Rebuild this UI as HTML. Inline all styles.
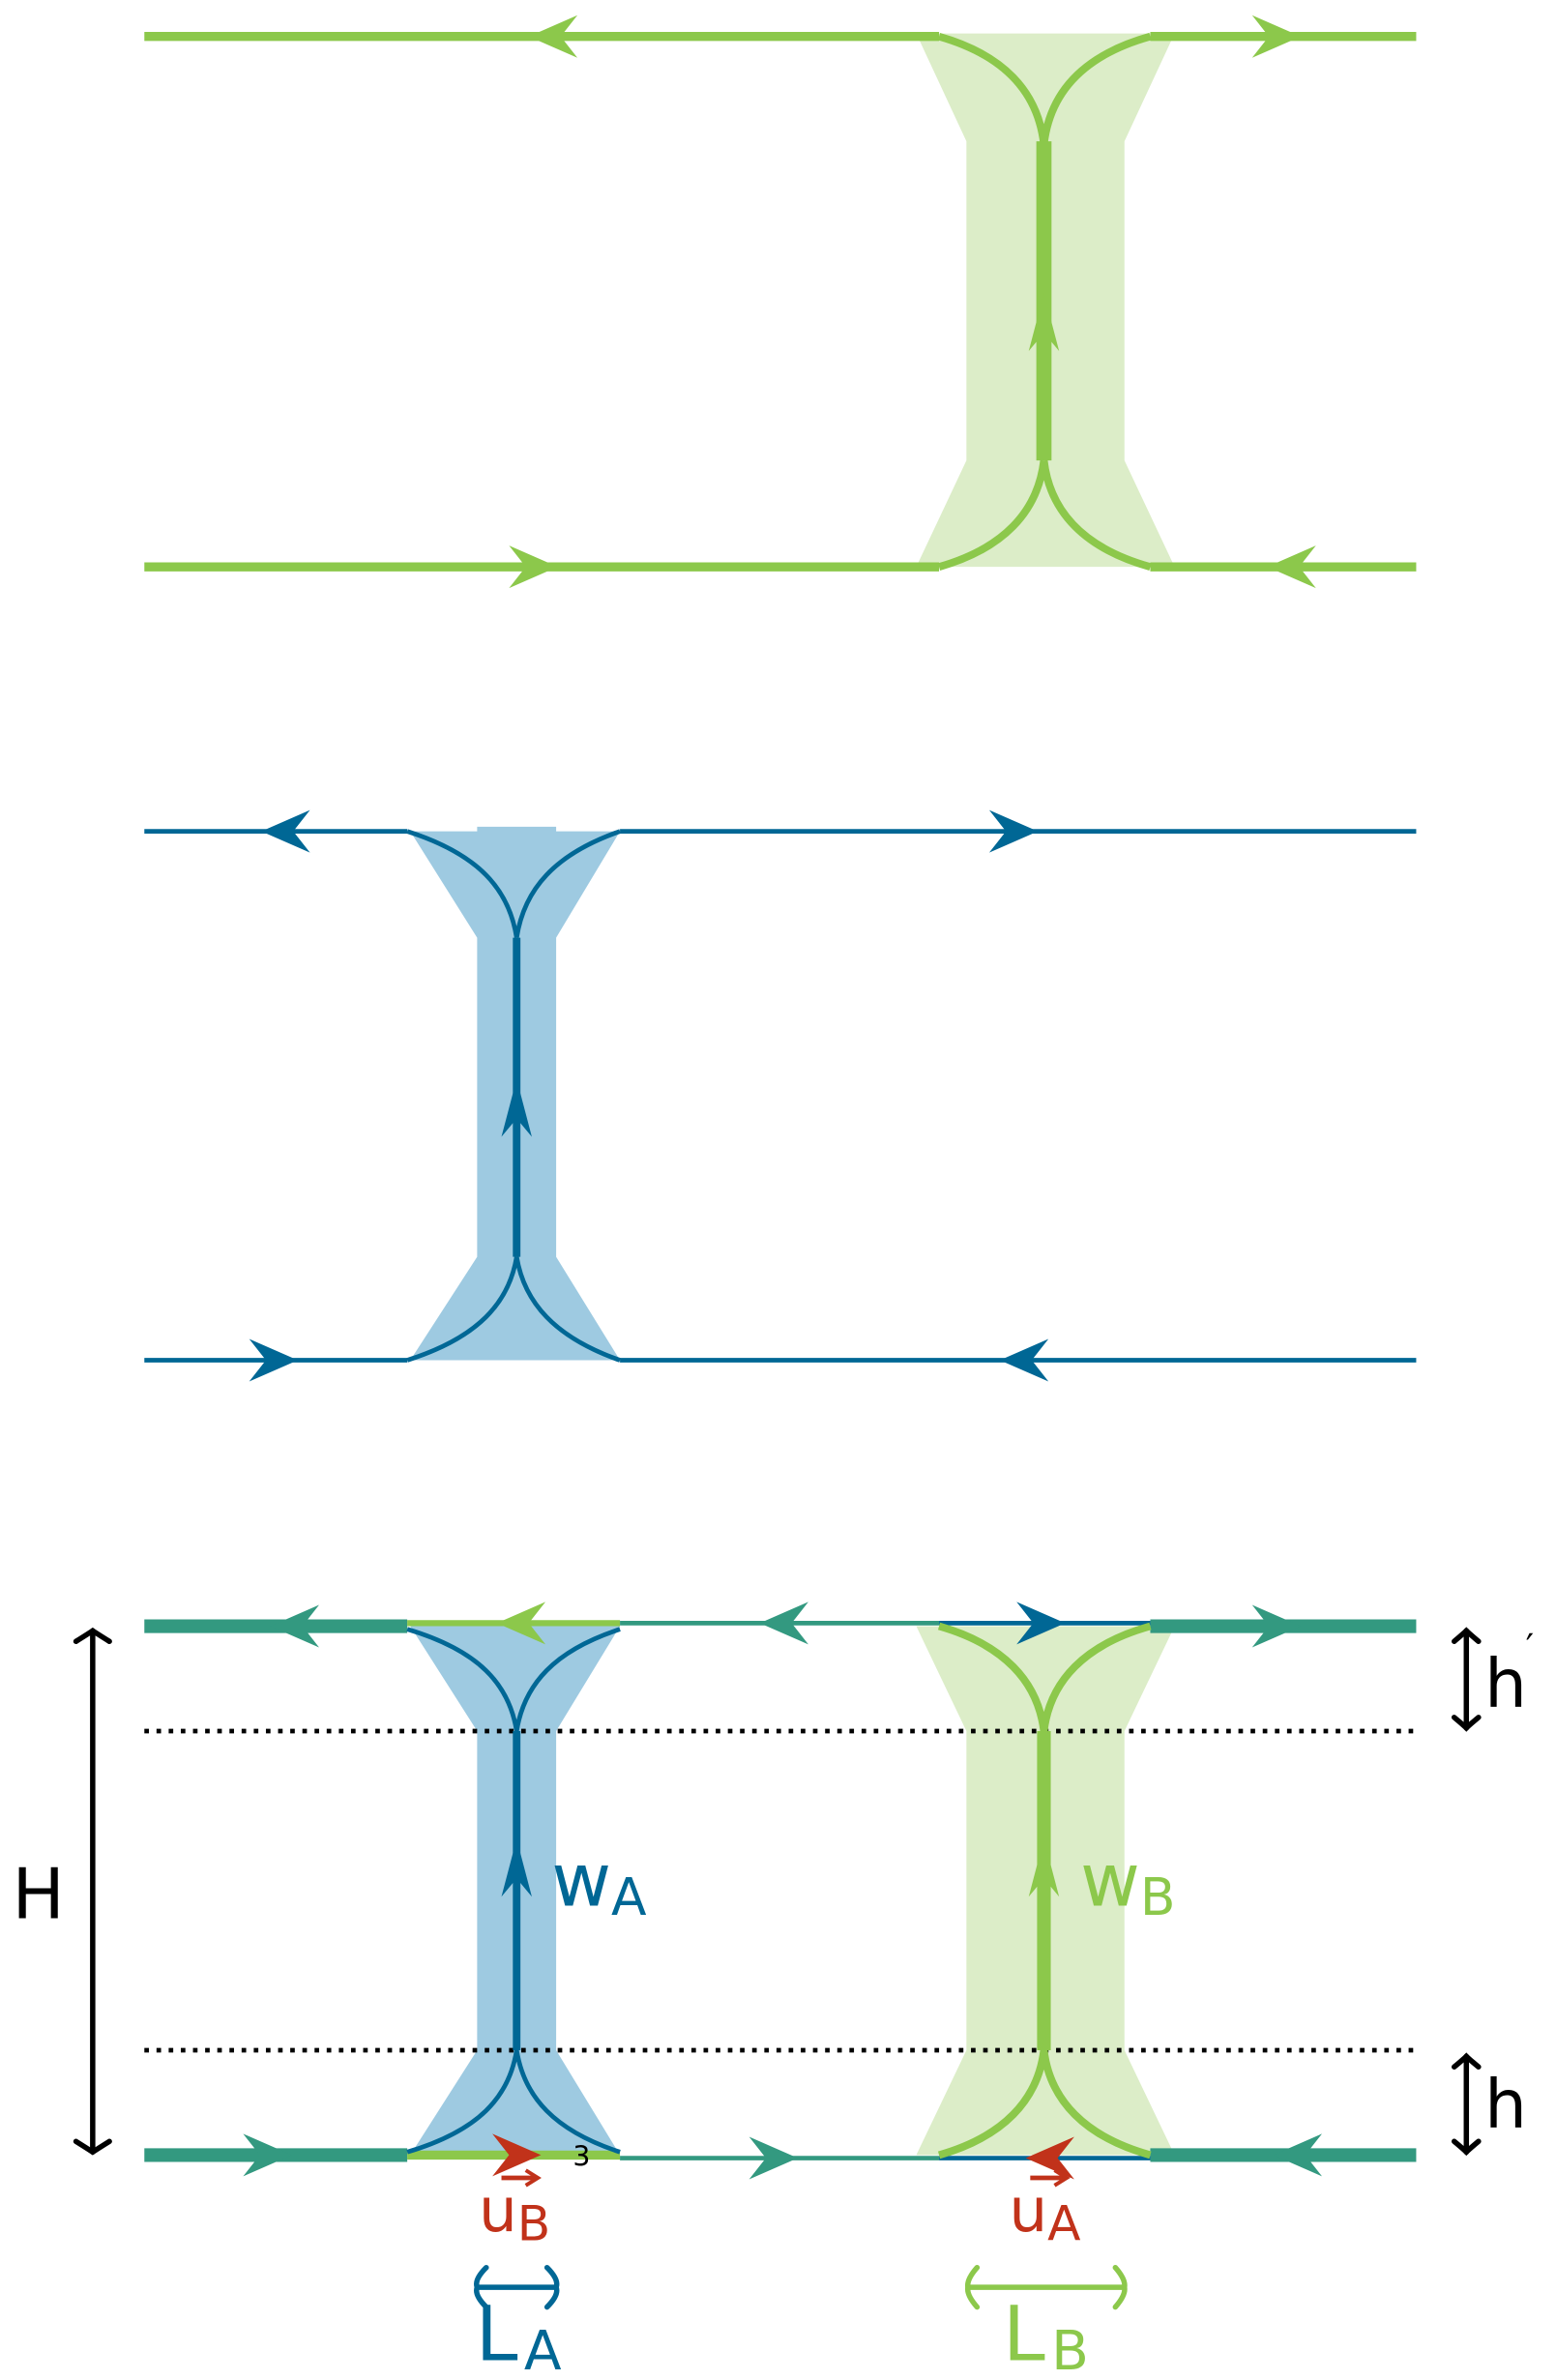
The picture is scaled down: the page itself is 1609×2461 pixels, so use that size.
<!DOCTYPE html>
<html><head><meta charset="utf-8"><style>
html,body{margin:0;padding:0;background:#fff;}
svg{display:block;}
text{font-family:"DejaVu Sans","Liberation Sans",sans-serif;}
</style></head><body>
<svg width="1609" height="2461" viewBox="0 0 1024 1566" preserveAspectRatio="none" xmlns="http://www.w3.org/2000/svg">
<defs>
<path id="ar" d="M0,0 L-32,-14 L-21,0 L-32,14 Z"/>
<path id="arv" d="M0,0 L-10,-38 L0,-26 L10,-38 Z"/>
</defs>

<!-- ===== Panel 1 (green) ===== -->
<polygon points="603,22 773,22 740,93 740,303 773,373 603,373 636,303 636,93" fill="#dcedc8"/>
<g stroke="#8cc84b" fill="none">
<line x1="95" y1="24" x2="618" y2="24" stroke-width="6"/>
<line x1="757" y1="24" x2="932" y2="24" stroke-width="6"/>
<line x1="95" y1="373" x2="618" y2="373" stroke-width="6"/>
<line x1="757" y1="373" x2="932" y2="373" stroke-width="6"/>
<path d="M618,24 C660,36 683,60 687,95 M757,24 C714,36 691,60 687,95" stroke-width="5"/>
<path d="M618,373 C660,361 683,337 687,303 M757,373 C714,361 691,337 687,303" stroke-width="5"/>
<line x1="687" y1="93" x2="687" y2="303" stroke-width="10"/>
</g>
<g fill="#8cc84b">
<use href="#ar" transform="translate(348,24) rotate(180)"/>
<use href="#ar" transform="translate(856,24)"/>
<use href="#ar" transform="translate(367,373)"/>
<use href="#ar" transform="translate(834,373) rotate(180)"/>
<use href="#arv" transform="translate(687,193) rotate(180)"/>
</g>

<!-- ===== Panel 2 (blue) ===== -->
<polygon points="270,547 314,547 314,544 366,544 366,547 408,547 366,617 366,827 408,895 270,895 314,827 314,617" fill="#9ecae1"/>
<g stroke="#006795" fill="none">
<line x1="95" y1="547" x2="268" y2="547" stroke-width="3"/>
<line x1="408" y1="547" x2="932" y2="547" stroke-width="3"/>
<line x1="95" y1="895" x2="268" y2="895" stroke-width="3"/>
<line x1="408" y1="895" x2="932" y2="895" stroke-width="3"/>
<path d="M268,547 C315,562 335,585 340,617 M408,547 C365,562 345,585 340,617" stroke-width="3"/>
<path d="M268,895 C315,880 335,857 340,827 M408,895 C365,880 345,857 340,827" stroke-width="3"/>
<line x1="340" y1="617" x2="340" y2="827" stroke-width="5"/>
</g>
<g fill="#006795">
<use href="#ar" transform="translate(172,547) rotate(180)"/>
<use href="#ar" transform="translate(683,547)"/>
<use href="#ar" transform="translate(196,895)"/>
<use href="#ar" transform="translate(658,895) rotate(180)"/>
<use href="#arv" transform="translate(340,710) rotate(180)"/>
</g>

<!-- ===== Panel 3 ===== -->
<polygon points="270,1070 408,1070 366,1139 366,1349 408,1418 270,1418 314,1349 314,1139" fill="#9ecae1"/>
<polygon points="603,1070 773,1070 740,1139 740,1349 773,1418 603,1418 636,1349 636,1139" fill="#dcedc8"/>
<g stroke="#000" stroke-width="3" stroke-dasharray="3,5">
<line x1="95" y1="1139" x2="932" y2="1139"/>
<line x1="95" y1="1349" x2="932" y2="1349"/>
</g>
<line x1="95" y1="1070" x2="268" y2="1070" stroke="#339980" stroke-width="9"/>
<line x1="268" y1="1068" x2="408" y2="1068" stroke="#8cc84b" stroke-width="4"/>
<line x1="408" y1="1068" x2="618" y2="1068" stroke="#339980" stroke-width="3"/>
<line x1="618" y1="1068" x2="757" y2="1068" stroke="#006795" stroke-width="3"/>
<line x1="757" y1="1070" x2="932" y2="1070" stroke="#339980" stroke-width="9"/>
<line x1="95" y1="1418" x2="268" y2="1418" stroke="#339980" stroke-width="9"/>
<line x1="268" y1="1418" x2="408" y2="1418" stroke="#8cc84b" stroke-width="6"/>
<line x1="408" y1="1420" x2="618" y2="1420" stroke="#339980" stroke-width="3"/>
<line x1="618" y1="1420" x2="757" y2="1420" stroke="#006795" stroke-width="3"/>
<line x1="757" y1="1418" x2="932" y2="1418" stroke="#339980" stroke-width="9"/>
<g stroke="#006795" fill="none">
<path d="M268,1072 C315,1086 335,1108 340,1139 M408,1072 C365,1086 345,1108 340,1139" stroke-width="3"/>
<path d="M268,1416 C315,1402 335,1380 340,1349 M408,1416 C365,1402 345,1380 340,1349" stroke-width="3"/>
<line x1="340" y1="1139" x2="340" y2="1349" stroke-width="5"/>
</g>
<g stroke="#8cc84b" fill="none">
<path d="M618,1070 C660,1082 683,1106 687,1139 M757,1070 C714,1082 691,1106 687,1139" stroke-width="5"/>
<path d="M618,1418 C660,1406 683,1382 687,1349 M757,1418 C714,1406 691,1382 687,1349" stroke-width="5"/>
<line x1="687" y1="1139" x2="687" y2="1349" stroke-width="9"/>
</g>
<g fill="#339980">
<use href="#ar" transform="translate(178,1070) rotate(180)"/>
<use href="#ar" transform="translate(500,1068) rotate(180)"/>
<use href="#ar" transform="translate(856,1070)"/>
<use href="#ar" transform="translate(192,1418)"/>
<use href="#ar" transform="translate(525,1420)"/>
<use href="#ar" transform="translate(838,1418) rotate(180)"/>
</g>
<use href="#ar" transform="translate(327,1068) rotate(180)" fill="#8cc84b"/>
<use href="#ar" transform="translate(701,1068)" fill="#006795"/>
<g fill="#006795"><use href="#arv" transform="translate(340,1210) rotate(180)"/></g>
<g fill="#8cc84b"><use href="#arv" transform="translate(687,1210) rotate(180)"/></g>
<g fill="#c1321a">
<use href="#ar" transform="translate(356,1418)"/>
<use href="#ar" transform="translate(675,1420) rotate(180)"/>
</g>
<text x="377" y="1425" font-size="18" fill="#000">3</text>

<text x="363" y="1254" font-size="48" fill="#006795">w<tspan font-size="34" dy="6">A</tspan></text>
<text x="711" y="1254" font-size="48" fill="#8cc84b">w<tspan font-size="34" dy="6">B</tspan></text>
<text x="315" y="1468" font-size="40" fill="#c1321a">u<tspan font-size="32" dy="6">B</tspan></text>
<line x1="330" y1="1433" x2="352" y2="1433" stroke="#c1321a" stroke-width="3"/>
<path d="M346,1428 L354,1433 L346,1438" fill="none" stroke="#c1321a" stroke-width="2.5"/>
<text x="664" y="1468" font-size="40" fill="#c1321a">u<tspan font-size="32" dy="6">A</tspan></text>
<line x1="678" y1="1433" x2="700" y2="1433" stroke="#c1321a" stroke-width="3"/>
<path d="M694,1428 L702,1433 L694,1438" fill="none" stroke="#c1321a" stroke-width="2.5"/>

<g fill="none" stroke-linecap="round">
<g stroke="#006795" stroke-width="3.5">
<line x1="314" y1="1505" x2="366" y2="1505"/>
<path d="M320,1492 Q312,1500 314,1505 Q312,1510 320,1518 M360,1492 Q368,1500 366,1505 Q368,1510 360,1518"/>
</g>
<g stroke="#8cc84b" stroke-width="3.5">
<line x1="637" y1="1505" x2="740" y2="1505"/>
<path d="M643,1492 Q636,1500 637,1505 Q636,1510 643,1518 M734,1492 Q741,1500 740,1505 Q741,1510 734,1518"/>
</g>
</g>
<text x="313" y="1553" font-size="50" fill="#006795">L<tspan font-size="36" dy="6" dx="4">A</tspan></text>
<text x="660" y="1553" font-size="50" fill="#8cc84b">L<tspan font-size="36" dy="6" dx="4">B</tspan></text>

<g stroke="#000" stroke-width="3.5" fill="none" stroke-linecap="round">
<line x1="61" y1="1073" x2="61" y2="1416"/>
<path d="M50,1080 Q58,1075 61,1073 Q64,1075 72,1080 M50,1409 Q58,1414 61,1416 Q64,1414 72,1409"/>
<line x1="965" y1="1073" x2="965" y2="1137"/>
<path d="M957,1080 Q963,1075 965,1073 Q967,1075 973,1080 M957,1130 Q963,1135 965,1137 Q967,1135 973,1130"/>
<line x1="965" y1="1353" x2="965" y2="1416"/>
<path d="M957,1360 Q963,1355 965,1353 Q967,1355 973,1360 M957,1409 Q963,1414 965,1416 Q967,1414 973,1409"/>
</g>
<text x="8" y="1262" font-size="46" fill="#000">H</text>
<text x="977" y="1123" font-size="44" fill="#000">h</text>
<text x="1004" y="1092" font-size="24" fill="#000">′</text>
<text x="977" y="1400" font-size="44" fill="#000">h</text>
</svg>
</body></html>
